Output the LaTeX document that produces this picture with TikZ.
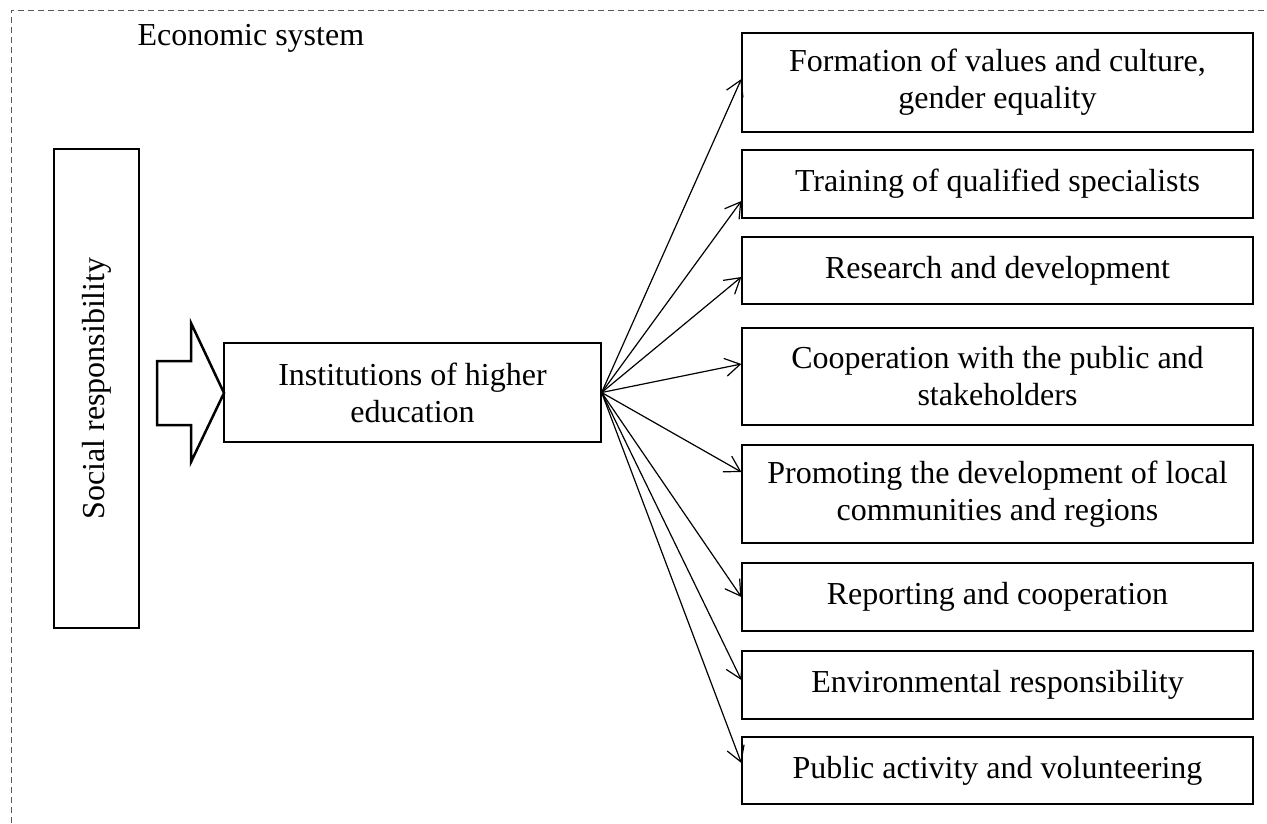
\documentclass[tikz,border=0pt]{standalone}
\usepackage{fontspec}
\setmainfont{Liberation Serif}
\usetikzlibrary{arrows.meta}

\begin{document}
\begin{tikzpicture}[x=1pt, y=-1pt,
  box/.style={draw, line width=1.3pt, align=center, inner sep=0pt, font=\fontsize{32}{37}\selectfont},
  link/.style={line width=1.2pt, -{Straight Barb[length=15pt, width=18pt]}}]

\useasboundingbox (0,0) rectangle (1267,823);

% Frame of the economic system
\draw[gray!70!black, line width=1pt, dash pattern=on 6pt off 4pt] (11,823) -- (11,10) -- (1267,10);
\node[anchor=west, font=\fontsize{32}{37}\selectfont] (econ) at (134,38) {Economic system};

% Left side
\node[box, rotate=90, minimum width=479pt, minimum height=85pt] (social) at (96.5,388.5) {Social responsibility};
\draw[line width=2.5pt, line join=miter] (157,361) -- (191,361) -- (191,323) -- (224,393) -- (191,462) -- (191,425) -- (157,425) -- cycle;
\node[box, minimum width=377pt, minimum height=99pt] (hei) at (412.5,392.5) {Institutions of higher\\ education};

% Directions
\foreach \name/\y/\h/\txt in {
  values/82.5/99/{Formation of values and culture,\\ gender equality},
  training/184/68/{Training of qualified specialists},
  research/270.5/67/{Research and development},
  cooperation/376.5/97/{Cooperation with the public and\\ stakeholders},
  regions/494/98/{Promoting the development of local\\ communities and regions},
  reporting/597/68/{Reporting and cooperation},
  environment/685/68/{Environmental responsibility},
  volunteering/770.5/67/{Public activity and volunteering}}
  \node[box, minimum width=511pt, minimum height=\h pt] (\name) at (997.5,\y) {\txt};

% Arrows
\foreach \name/\dy in {values/3.5, training/-17, research/-6.5, cooperation/12.5, regions/22, reporting/0, environment/5, volunteering/7.5}
  \draw[link] (hei.east) -- ([yshift=\dy pt]\name.west);

\end{tikzpicture}
\end{document}
